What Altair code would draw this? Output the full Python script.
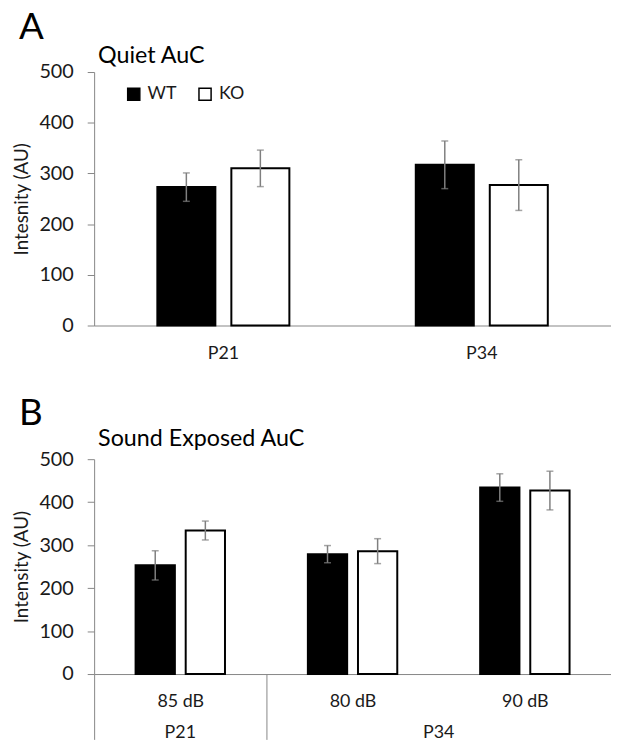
import altair as alt
import pandas as pd

FONT = "Lato"
ERR_GRAY = "#7f7f7f"
AXIS_GRAY = "#868686"
TEXT = "#1a1a1a"

genotypes = ["WT", "KO"]
geno_fill = ["#000000", "#ffffff"]
y_ticks = [0, 100, 200, 300, 400, 500]

# Panel A - Quiet AuC
a_ages = ["P21", "P34"]
a_age = ["P21", "P21", "P34", "P34"]
a_geno = ["WT", "KO", "WT", "KO"]
a_mean = [273, 310, 317, 277]
a_sem = [28, 36, 47, 50]

# Panel B - Sound Exposed AuC
b_levels = ["85 dB", "80 dB", "90 dB"]
b_level = ["85 dB", "85 dB", "80 dB", "80 dB", "90 dB", "90 dB"]
b_geno = ["WT", "KO", "WT", "KO", "WT", "KO"]
b_mean = [253, 334, 279, 286, 434, 427]
b_sem = [34, 22, 20, 29, 32, 45]
b_groups = ["P21", "P34"]
b_group_start = ["85 dB", "80 dB"]   # first level of each age group
b_group_end = ["85 dB", "90 dB"]     # last level of each age group


def y_axis(title):
    return alt.Axis(title=title, values=y_ticks, grid=False, tickSize=7, tickColor=AXIS_GRAY,
                    tickWidth=1, domainColor=AXIS_GRAY, labelFontSize=20, labelPadding=14,
                    labelColor=TEXT, titleFontSize=19, titleFontWeight="normal",
                    titlePadding=8, titleColor=TEXT)


yscale = alt.Scale(domain=[0, 500], nice=False)

# ---------- Panel A ----------
dfA = pd.DataFrame({"age": a_age, "geno": a_geno, "mean": a_mean, "sem": a_sem})
baseA = alt.Chart(dfA).transform_calculate(lo="datum.mean - datum.sem", hi="datum.mean + datum.sem")
xA = alt.X("age:N", scale=alt.Scale(domain=a_ages, paddingInner=0, paddingOuter=0),
           axis=alt.Axis(title=None, labelAngle=0, ticks=False, labelFontSize=18, labelPadding=19,
                         domainColor=AXIS_GRAY, labelColor=TEXT))
offA = alt.XOffset("geno:N", scale=alt.Scale(domain=genotypes, paddingInner=0.216, paddingOuter=0.854))
colorA = alt.Color("geno:N", scale=alt.Scale(domain=genotypes, range=geno_fill),
                   legend=alt.Legend(title=None, orient="none", legendX=31, legendY=13,
                                     direction="horizontal", symbolType="square", symbolSize=150,
                                     symbolStrokeColor="black", symbolStrokeWidth=1.5,
                                     labelFontSize=18, labelOffset=5, columnPadding=18,
                                     labelColor=TEXT, padding=0))
yA = lambda f: alt.Y(f, scale=yscale, axis=y_axis("Intesnity (AU)"))

barsA = baseA.mark_bar(stroke="black", strokeWidth=2).encode(
    x=xA, xOffset=offA, y=yA("mean:Q"), color=colorA)
errA = baseA.mark_rule(color=ERR_GRAY, strokeWidth=1.5).encode(
    x=xA, xOffset=offA, y=yA("lo:Q"), y2="hi:Q")
loA = baseA.mark_tick(color=ERR_GRAY, size=7, thickness=1.5).encode(x=xA, xOffset=offA, y=yA("lo:Q"))
hiA = baseA.mark_tick(color=ERR_GRAY, size=7, thickness=1.5).encode(x=xA, xOffset=offA, y=yA("hi:Q"))

chartA = alt.layer(barsA, errA, loA, hiA).properties(
    width=522, height=256,
    title=alt.TitleParams("Quiet AuC", anchor="start", frame="group", fontSize=23.5,
                          fontWeight="normal", dx=4, offset=-5, color="black"))

panelA = alt.vconcat(chartA).properties(
    title=alt.TitleParams("A", anchor="start", frame="bounds", fontSize=37, fontWeight="normal",
                          dx=7, offset=-3, color="black"))

# ---------- Panel B ----------
dfB = pd.DataFrame({"level": b_level, "geno": b_geno, "mean": b_mean, "sem": b_sem})
baseB = alt.Chart(dfB).transform_calculate(lo="datum.mean - datum.sem", hi="datum.mean + datum.sem")
# separators: at the left edge of the axis and after the last level of every group but the final one
sep_test = " || ".join([f"datum.value === '{v}'" for v in b_group_end[:-1]] + ["datum.extra"])
xscaleB = alt.Scale(domain=b_levels, paddingInner=0, paddingOuter=0)
axisB = alt.Axis(title=None, labelAngle=0, labelFontSize=18, labelColor=TEXT,
                 domainColor=AXIS_GRAY, tickBand="extent", tickSize=66,
                 tickColor=AXIS_GRAY, tickWidth=1,
                 tickOpacity={"condition": {"test": sep_test, "value": 1}, "value": 0},
                 labelPadding=-47)
xB = alt.X("level:N", scale=xscaleB, axis=axisB)
offB = alt.XOffset("geno:N", scale=alt.Scale(domain=genotypes, paddingInner=0.216, paddingOuter=0.827))
colorB = alt.Color("geno:N", scale=alt.Scale(domain=genotypes, range=geno_fill), legend=None)
yB = lambda f: alt.Y(f, scale=yscale, axis=y_axis("Intensity (AU)"))

barsB = baseB.mark_bar(stroke="black", strokeWidth=2).encode(
    x=xB, xOffset=offB, y=yB("mean:Q"), color=colorB)
errB = baseB.mark_rule(color=ERR_GRAY, strokeWidth=1.5).encode(
    x=xB, xOffset=offB, y=yB("lo:Q"), y2="hi:Q")
loB = baseB.mark_tick(color=ERR_GRAY, size=7, thickness=1.5).encode(x=xB, xOffset=offB, y=yB("lo:Q"))
hiB = baseB.mark_tick(color=ERR_GRAY, size=7, thickness=1.5).encode(x=xB, xOffset=offB, y=yB("hi:Q"))

grp = pd.DataFrame({"group": b_groups, "start": b_group_start})
g1 = alt.Chart(grp).transform_filter("datum.group === 'P21'").mark_text(
    fontSize=18, color=TEXT, baseline="alphabetic").encode(
    x=alt.X("start:N", scale=xscaleB, bandPosition=0.5, axis=axisB), y=alt.value(282), text="group:N")
g2 = alt.Chart(grp).transform_filter("datum.group === 'P34'").mark_text(
    fontSize=18, color=TEXT, baseline="alphabetic").encode(
    x=alt.X("start:N", scale=xscaleB, bandPosition=1, axis=axisB), y=alt.value(282), text="group:N")

chartB = alt.layer(barsB, errB, loB, hiB, g1, g2).properties(
    width=522, height=217,
    title=alt.TitleParams("Sound Exposed AuC", anchor="start", frame="group", fontSize=23.5,
                          fontWeight="normal", dx=4, offset=-1, color="black"))

panelB = alt.vconcat(chartB).properties(
    title=alt.TitleParams("B", anchor="start", frame="bounds", fontSize=37, fontWeight="normal",
                          dx=7, offset=-6, color="black"))

chart = alt.vconcat(panelA, panelB, spacing=33).resolve_scale(
    xOffset="independent", color="independent", x="independent"
).properties(
    padding={"left": 4, "top": -3, "right": 0, "bottom": 0}
).configure(font=FONT).configure_view(stroke=None)

chart.save("out.html", embed_options={"renderer": "svg", "actions": False})
